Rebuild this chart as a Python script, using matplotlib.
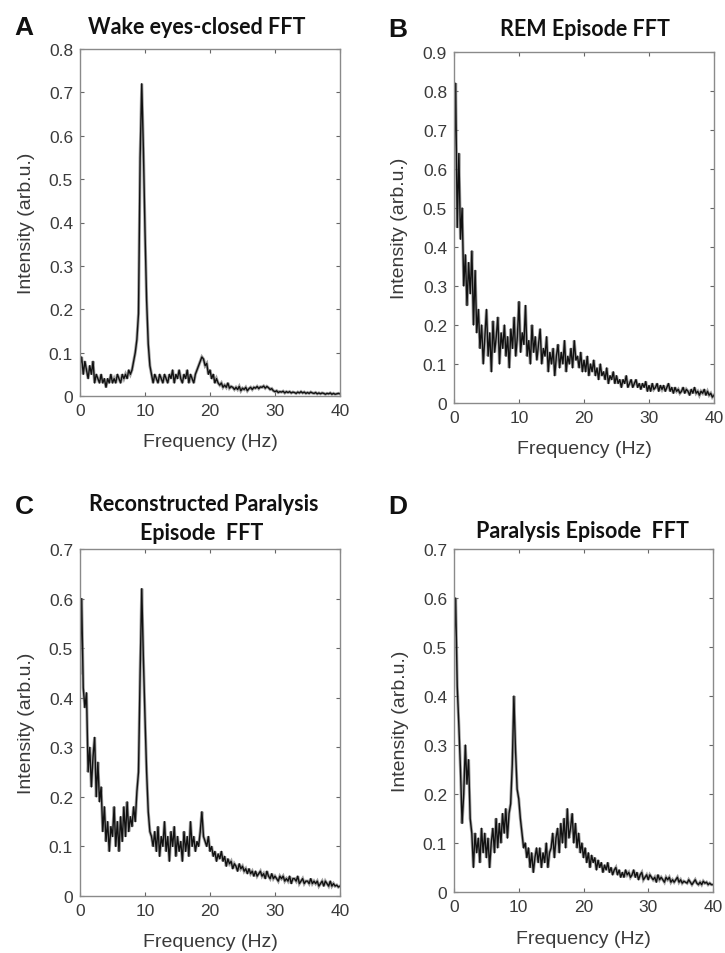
import numpy as np
import matplotlib
matplotlib.use("Agg")
import matplotlib.pyplot as plt

# Frequency bins (Hz), 0.25 Hz spacing
freq = np.linspace(0, 40, 161)

wake = [
    0.07, 0.09, 0.05, 0.08,
    0.06, 0.04, 0.07, 0.05,
    0.08, 0.03, 0.05, 0.04,
    0.03, 0.05, 0.03, 0.04,
    0.02, 0.04, 0.03, 0.05,
    0.03, 0.04, 0.03, 0.05,
    0.04, 0.03, 0.05, 0.04,
    0.05, 0.04, 0.06, 0.05,
    0.06, 0.08, 0.10, 0.13,
    0.19, 0.55, 0.72, 0.57,
    0.38, 0.22, 0.12, 0.07,
    0.05, 0.03, 0.05, 0.04,
    0.03, 0.05, 0.04, 0.03,
    0.05, 0.04, 0.03, 0.05,
    0.04, 0.06, 0.03, 0.05,
    0.04, 0.06, 0.04, 0.03,
    0.05, 0.04, 0.06, 0.03,
    0.05, 0.04, 0.03, 0.05,
    0.06, 0.07, 0.08, 0.09,
    0.085, 0.07, 0.075, 0.05,
    0.06, 0.04, 0.05, 0.03,
    0.04, 0.03, 0.025, 0.03,
    0.02, 0.025, 0.02, 0.03,
    0.018, 0.022, 0.02, 0.015,
    0.02, 0.015, 0.022, 0.012,
    0.018, 0.015, 0.02, 0.012,
    0.017, 0.02, 0.015, 0.02,
    0.018, 0.022, 0.017, 0.021,
    0.02, 0.023, 0.018, 0.022,
    0.019, 0.015, 0.017, 0.012,
    0.01, 0.012, 0.008, 0.01,
    0.009, 0.011, 0.007, 0.01,
    0.008, 0.01, 0.007, 0.009,
    0.008, 0.006, 0.009, 0.007,
    0.01, 0.007, 0.009, 0.006,
    0.008, 0.006, 0.009, 0.007,
    0.006, 0.008, 0.005, 0.007,
    0.005, 0.007, 0.006, 0.004,
    0.006, 0.005, 0.007, 0.004,
    0.006, 0.004, 0.005, 0.006,
    0.005,
]

rem = [
    0.60, 0.82, 0.45, 0.64,
    0.42, 0.50, 0.30, 0.38,
    0.25, 0.36, 0.28, 0.39,
    0.20, 0.34, 0.18, 0.24,
    0.14, 0.20, 0.10, 0.17,
    0.24, 0.12, 0.18, 0.08,
    0.21, 0.13, 0.17, 0.22,
    0.10, 0.18, 0.14, 0.20,
    0.12, 0.17, 0.09, 0.19,
    0.14, 0.22, 0.12, 0.17,
    0.26, 0.13, 0.18, 0.15,
    0.25, 0.12, 0.16, 0.10,
    0.20, 0.13, 0.17, 0.11,
    0.15, 0.19, 0.10, 0.14,
    0.12, 0.17, 0.08, 0.13,
    0.10, 0.14, 0.07, 0.12,
    0.15, 0.09, 0.13, 0.10,
    0.16, 0.08, 0.12, 0.10,
    0.14, 0.09, 0.16, 0.11,
    0.12, 0.09, 0.13, 0.08,
    0.11, 0.08, 0.12, 0.07,
    0.10, 0.08, 0.11, 0.07,
    0.09, 0.06, 0.10, 0.07,
    0.08, 0.06, 0.09, 0.05,
    0.07, 0.06, 0.08, 0.05,
    0.07, 0.05, 0.06, 0.04,
    0.06, 0.05, 0.07, 0.04,
    0.05, 0.06, 0.04, 0.05,
    0.06, 0.04, 0.05, 0.035,
    0.05, 0.04, 0.055, 0.03,
    0.045, 0.03, 0.05, 0.035,
    0.04, 0.05, 0.03, 0.045,
    0.035, 0.045, 0.03, 0.04,
    0.05, 0.03, 0.04, 0.025,
    0.04, 0.03, 0.035, 0.025,
    0.03, 0.04, 0.025, 0.035,
    0.03, 0.02, 0.035, 0.025,
    0.04, 0.025, 0.03, 0.02,
    0.03, 0.025, 0.035, 0.02,
    0.03, 0.02, 0.025, 0.015,
    0.02,
]

recon = [
    0.45, 0.60, 0.42, 0.38,
    0.41, 0.25, 0.30, 0.22,
    0.28, 0.32, 0.20, 0.27,
    0.19, 0.22, 0.13, 0.18,
    0.11, 0.15, 0.09, 0.14,
    0.12, 0.18, 0.10, 0.15,
    0.09, 0.16, 0.11, 0.18,
    0.12, 0.19, 0.13, 0.16,
    0.14, 0.18, 0.15, 0.21,
    0.25, 0.45, 0.62, 0.48,
    0.36, 0.25, 0.17, 0.13,
    0.12, 0.10, 0.13, 0.09,
    0.14, 0.08, 0.12, 0.10,
    0.15, 0.09, 0.12, 0.07,
    0.13, 0.10, 0.14, 0.08,
    0.12, 0.09, 0.11, 0.07,
    0.13, 0.09, 0.12, 0.08,
    0.15, 0.10, 0.12, 0.09,
    0.11, 0.10, 0.13, 0.17,
    0.12, 0.11, 0.10, 0.12,
    0.09, 0.10, 0.08, 0.09,
    0.07, 0.085, 0.075, 0.09,
    0.07, 0.08, 0.06, 0.075,
    0.065, 0.07, 0.055, 0.065,
    0.06, 0.05, 0.065, 0.055,
    0.06, 0.05, 0.055, 0.045,
    0.055, 0.045, 0.05, 0.04,
    0.05, 0.04, 0.045, 0.05,
    0.04, 0.045, 0.035, 0.05,
    0.04, 0.035, 0.045, 0.035,
    0.04, 0.035, 0.03, 0.04,
    0.035, 0.04, 0.03, 0.035,
    0.03, 0.04, 0.025, 0.035,
    0.035, 0.03, 0.04, 0.025,
    0.03, 0.035, 0.025, 0.03,
    0.03, 0.025, 0.035, 0.025,
    0.03, 0.025, 0.03, 0.02,
    0.025, 0.03, 0.02, 0.03,
    0.025, 0.02, 0.03, 0.02,
    0.025, 0.02, 0.022, 0.018,
    0.02,
]

paralysis = [
    0.50, 0.60, 0.42, 0.34,
    0.25, 0.14, 0.20, 0.30,
    0.22, 0.27, 0.15, 0.12,
    0.05, 0.12, 0.08, 0.11,
    0.06, 0.13, 0.08, 0.12,
    0.07, 0.11, 0.05, 0.10,
    0.13, 0.08, 0.15, 0.09,
    0.14, 0.10, 0.16, 0.12,
    0.17, 0.11, 0.16, 0.18,
    0.26, 0.40, 0.29, 0.21,
    0.19, 0.15, 0.12, 0.09,
    0.10, 0.07, 0.09, 0.05,
    0.08, 0.04, 0.07, 0.09,
    0.06, 0.09, 0.05, 0.08,
    0.06, 0.10, 0.05, 0.08,
    0.09, 0.12, 0.07, 0.11,
    0.13, 0.08, 0.14, 0.10,
    0.15, 0.09, 0.17, 0.11,
    0.13, 0.16, 0.10, 0.14,
    0.09, 0.12, 0.08, 0.10,
    0.07, 0.09, 0.06, 0.08,
    0.05, 0.075, 0.06, 0.07,
    0.045, 0.065, 0.05, 0.06,
    0.04, 0.055, 0.045, 0.06,
    0.04, 0.05, 0.035, 0.045,
    0.05, 0.035, 0.045, 0.03,
    0.04, 0.03, 0.045, 0.035,
    0.04, 0.03, 0.035, 0.045,
    0.03, 0.04, 0.025, 0.035,
    0.04, 0.025, 0.03, 0.035,
    0.025, 0.035, 0.03, 0.025,
    0.03, 0.02, 0.035, 0.025,
    0.03, 0.025, 0.02, 0.03,
    0.025, 0.03, 0.02, 0.025,
    0.02, 0.025, 0.03, 0.02,
    0.025, 0.018, 0.022, 0.02,
    0.018, 0.025, 0.02, 0.015,
    0.02, 0.025, 0.018, 0.015,
    0.02, 0.015, 0.022, 0.018,
    0.02, 0.015, 0.018, 0.015,
    0.015,
]

x_ticks = [0, 10, 20, 30, 40]
y_ticks_a = [0, 0.1, 0.2, 0.3, 0.4, 0.5, 0.6, 0.7, 0.8]
y_ticks_b = [0, 0.1, 0.2, 0.3, 0.4, 0.5, 0.6, 0.7, 0.8, 0.9]
y_ticks_cd = [0, 0.1, 0.2, 0.3, 0.4, 0.5, 0.6, 0.7]

W, H = 725, 954
fig = plt.figure(figsize=(W / 100, H / 100), dpi=100)

def px_rect(l, r, t, b):
    return [l / W, 1 - b / H, (r - l) / W, (b - t) / H]

TICK_FONT = dict(family="Liberation Sans", size=12.5, color="#3a3a3a")
LABEL_FONT = dict(family="Liberation Sans", size=14, color="#3a3a3a")

def fmt(v):
    return "0" if v == 0 else f"{v:g}"

def make_axes(rect, y, ymax, yticks, xlab_y, ylab_x):
    ax = fig.add_axes(rect)
    ax.plot(freq, y, color="#8a8a8a", lw=2.2, alpha=0.8, solid_joinstyle="miter")
    ax.plot(freq, y, color="#111111", lw=1.0)
    ax.set_xlim(0, 40)
    ax.set_ylim(0, ymax)
    ax.set_xticks(x_ticks)
    ax.set_xticklabels([fmt(v) for v in x_ticks], **TICK_FONT)
    ax.set_yticks(yticks)
    ax.set_yticklabels([fmt(v) for v in yticks], **TICK_FONT)
    ax.tick_params(direction="in", length=3, width=0.8, color="#666666",
                   top=True, right=True, pad=5)
    for s in ax.spines.values():
        s.set_color("#8a8a8a")
        s.set_linewidth(1.0)
    ax.set_xlabel("Frequency (Hz)", va="center", **LABEL_FONT)
    ax.set_ylabel("Intensity (arb.u.)", va="center", **LABEL_FONT)
    ax.xaxis.set_label_coords(0.5, xlab_y)
    ax.yaxis.set_label_coords(ylab_x, 0.5)
    return ax

axA = make_axes(px_rect(80, 340, 50, 397), wake, 0.8, y_ticks_a, -0.13, -0.205)
axB = make_axes(px_rect(454, 714, 53, 404), rem, 0.9, y_ticks_b, -0.131, -0.208)
axC = make_axes(px_rect(80, 340, 550, 897), recon, 0.7, y_ticks_cd, -0.13, -0.205)
axD = make_axes(px_rect(454, 713, 550, 893), paralysis, 0.7, y_ticks_cd, -0.137, -0.208)

TITLE_FONT = dict(family="Lato", weight="bold", size=15.5, color="#111111")
LETTER_FONT = dict(family="Liberation Sans", weight="bold", size=19, color="#111111")

def ftext(xp, yp, s, **kw):
    fig.text(xp / W, 1 - yp / H, s, ha="center", va="center", **kw)

ftext(197, 27, "Wake eyes-closed FFT", **TITLE_FONT)
ftext(585, 30, "REM Episode FFT", **TITLE_FONT)
ftext(204, 505, "Reconstructed Paralysis", **TITLE_FONT)
ftext(202, 533, "Episode  FFT", **TITLE_FONT)
ftext(582, 532, "Paralysis Episode  FFT", **TITLE_FONT)

ftext(24, 28, "A", **LETTER_FONT)
ftext(398, 30, "B", **LETTER_FONT)
ftext(24, 507, "C", **LETTER_FONT)
ftext(398, 507, "D", **LETTER_FONT)

fig.savefig("out.png", dpi=100, facecolor="white")
